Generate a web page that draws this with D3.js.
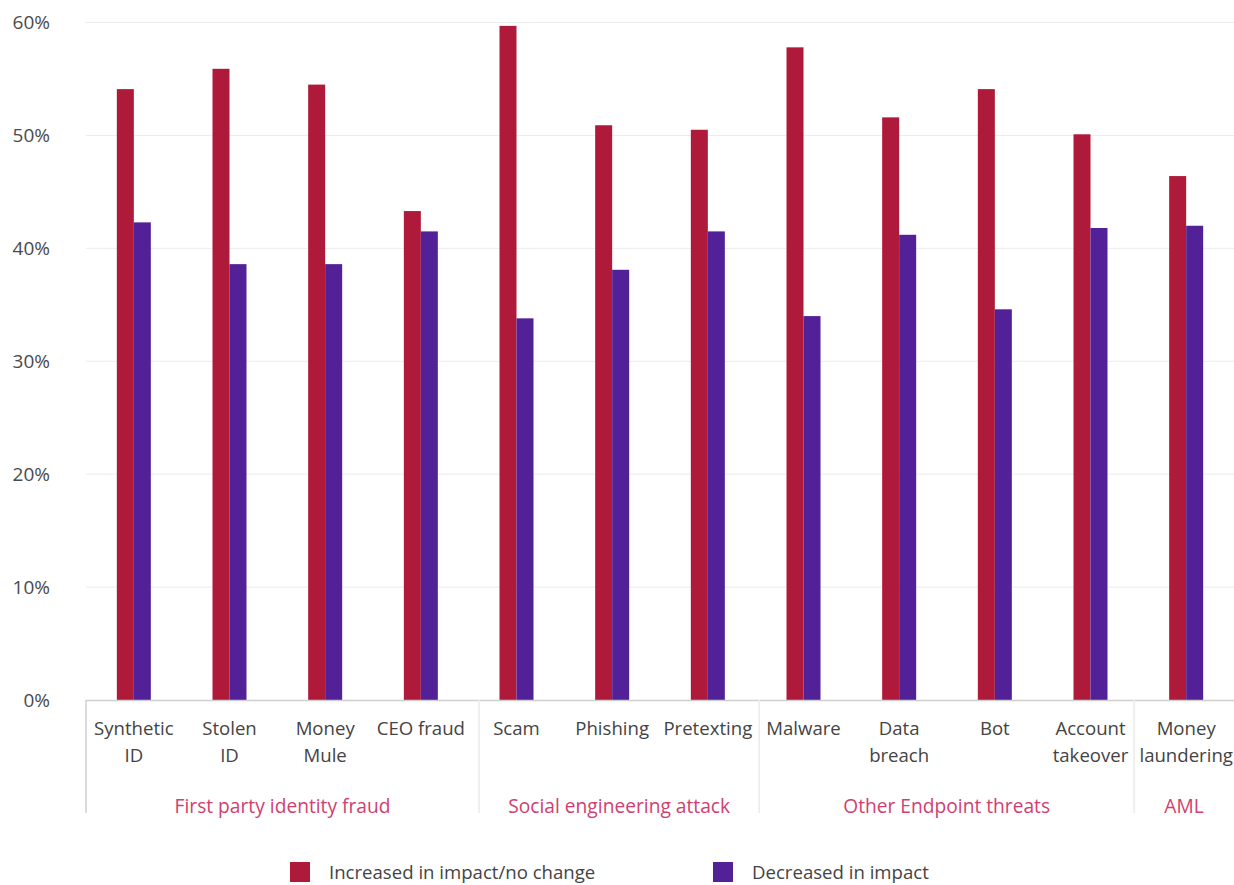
<!DOCTYPE html>
<html>
<head>
<meta charset="utf-8">
<script src="https://cdn.jsdelivr.net/npm/d3@7"></script>
<style>
  html, body { margin: 0; padding: 0; background: #fff; }
  svg { display: block; font-family: "Open Sans", "Noto Sans", sans-serif; }
</style>
</head>
<body>
<svg id="chart" width="1234" height="885"></svg>
<script>
// Fraud categories, each label split into display lines
const categories = [
  ["Synthetic", "ID"], ["Stolen", "ID"], ["Money", "Mule"], ["CEO fraud"],
  ["Scam"], ["Phishing"], ["Pretexting"],
  ["Malware"], ["Data", "breach"], ["Bot"], ["Account", "takeover"],
  ["Money", "laundering"]
];
// Group that each category belongs to
const categoryGroups = [
  "First party identity fraud", "First party identity fraud", "First party identity fraud", "First party identity fraud",
  "Social engineering attack", "Social engineering attack", "Social engineering attack",
  "Other Endpoint threats", "Other Endpoint threats", "Other Endpoint threats", "Other Endpoint threats",
  "AML"
];
const seriesNames = ["Increased in impact/no change", "Decreased in impact"];
// Share of respondents (%)
const increased = [54.1, 55.9, 54.5, 43.3, 59.7, 50.9, 50.5, 57.8, 51.6, 54.1, 50.1, 46.4];
const decreased = [42.3, 38.6, 38.6, 41.5, 33.8, 38.1, 41.5, 34.0, 41.2, 34.6, 41.8, 42.0];
const yTicks = [0, 10, 20, 30, 40, 50, 60];

const colors = ["#AF1A3A", "#522197"];
const svg = d3.select("#chart");
const W = 1234;
const left = 86;

const idx = d3.range(categories.length);
const x = d3.scaleBand().domain(idx).range([left, W]).padding(0);
const y = d3.scaleLinear().domain([0, 60]).range([700, 22.5]);
const barW = 17;

// Horizontal grid lines
svg.append("g").selectAll("line").data(yTicks.filter(t => t > 0)).join("line")
  .attr("x1", left).attr("x2", W)
  .attr("y1", d => y(d)).attr("y2", d => y(d))
  .attr("stroke", "#ebebeb").attr("stroke-width", 1);

// Y axis labels
const yAxis = d3.axisLeft(y).tickValues(yTicks).tickFormat(d => d + "%").tickSize(0).tickPadding(0);
const yg = svg.append("g").attr("transform", "translate(50,0)").call(yAxis);
yg.select(".domain").remove();
yg.selectAll("text").attr("font-size", 19).attr("fill", "#4a4a4a")
  .attr("font-family", "'Open Sans', sans-serif");

// Bars
const series = [increased, decreased];
series.forEach((vals, s) => {
  svg.append("g").selectAll("rect").data(vals).join("rect")
    .attr("x", (d, i) => x(i) + x.bandwidth() / 2 - barW + s * barW)
    .attr("width", barW)
    .attr("y", d => y(d))
    .attr("height", d => y(0) - y(d))
    .attr("fill", colors[s]);
});

// Baseline
svg.append("line").attr("x1", left).attr("x2", W)
  .attr("y1", y(0) + 0.5).attr("y2", y(0) + 0.5)
  .attr("stroke", "#cfcfcf").attr("stroke-width", 1.5);

// Category labels
const labels = svg.append("g").selectAll("text").data(idx).join("text")
  .attr("x", i => x(i) + x.bandwidth() / 2)
  .attr("text-anchor", "middle")
  .attr("font-size", 18.6).attr("fill", "#444");
labels.each(function (i) {
  const t = d3.select(this);
  categories[i].forEach((line, k) => {
    t.append("tspan").attr("x", x(i) + x.bandwidth() / 2)
      .attr("y", 735 + k * 27).text(line);
  });
});

// Horizontal extent of each category label
const extents = idx.map(i => {
  const bb = labels.nodes()[i].getBBox();
  return [bb.x, bb.x + bb.width];
});

// Group dividers placed midway between neighbouring group labels
const groupNames = [...new Set(categoryGroups)];
const bounds = [left];
groupNames.forEach((g, gi) => {
  if (gi === groupNames.length - 1) { bounds.push(W); return; }
  const last = categoryGroups.lastIndexOf(g);
  bounds.push((extents[last][1] + extents[last + 1][0]) / 2);
});

svg.append("g").selectAll("line").data(bounds.slice(0, -1)).join("line")
  .attr("x1", d => d).attr("x2", d => d)
  .attr("y1", y(0)).attr("y2", 813)
  .attr("stroke", d => d === left ? "#cfcfcf" : "#ebebeb")
  .attr("stroke-width", 1.5);

svg.append("g").selectAll("text").data(groupNames).join("text")
  .attr("x", (g, gi) => (bounds[gi] + bounds[gi + 1]) / 2)
  .attr("y", 813)
  .attr("text-anchor", "middle")
  .attr("font-size", 19.2).attr("fill", "#D0406F")
  .text(g => g);

// Legend
const legendX = [290, 713];
const lg = svg.append("g").selectAll("g").data(seriesNames).join("g")
  .attr("transform", (d, i) => `translate(${legendX[i]},862)`);
lg.append("rect").attr("width", 20).attr("height", 20).attr("fill", (d, i) => colors[i]);
lg.append("text").attr("x", 39).attr("y", 17).attr("font-size", 18.6)
  .attr("fill", "#444").text(d => d);
</script>
</body>
</html>
